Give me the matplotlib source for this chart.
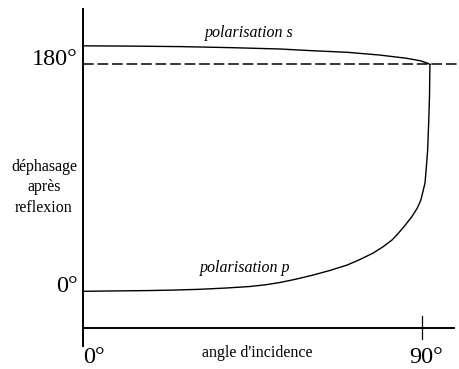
import matplotlib
matplotlib.use("Agg")
import matplotlib.pyplot as plt

# Data (angle of incidence in degrees, phase shift in degrees)
p_angle = [0, 17.8, 24.5, 31.1, 38.0, 44.3, 48.5, 52.3, 56.5, 61.1, 65.5, 70.1, 73.5, 77.0, 79.5,
           82.0, 83.4, 85.2, 87.3, 88.7, 89.7, 90.8, 91.2, 91.5, 91.8, 92.0, 92.1]
p_phase = [0, 0.6, 1.0, 1.6, 2.6, 3.8, 5.2, 7.0, 9.6, 12.9, 16.5, 20.8, 25.2, 30.3, 35.0,
           40.6, 45.0, 51.2, 59.2, 65.8, 72.4, 85.9, 100.2, 112.1, 135.9, 155.7, 180]
s_angle = [0, 12.5, 25.8, 39.0, 52.3, 61.1, 70.1, 78.8, 86.0, 89.5, 91.6, 92.1]
s_phase = [194.8, 194.6, 194.2, 193.4, 192.3, 190.9, 189.7, 187.5, 184.9, 183.0, 180.9, 180]
y_tick_labels = ["0°", "180°"]
y_tick_values = [0, 180]
x_tick_labels = ["0°", "90°"]
x_tick_values = [0, 90]

fig = plt.figure(figsize=(4.6, 3.69), dpi=100)
ax = fig.add_axes([0, 0, 1, 1])
ax.set_xlim(-22.04, 100.09)
ax.set_ylim(-61.67, 231.19)
ax.axis("off")

serif = ["Liberation Serif", "DejaVu Serif"]

# axes drawn by hand (schematic)
ax.plot([0, 0], [224.8, -44.2], color="black", lw=1.4, solid_capstyle="butt")
ax.plot([0, 98.76], [-29.13, -29.13], color="black", lw=1.4, solid_capstyle="butt")
ax.plot([90, 90], [-19.6, -37.9], color="black", lw=0.9)
ax.plot([0, 100.09], [180, 180], color="black", lw=1.1, dashes=(7, 2.5))

ax.plot(s_angle, s_phase, color="black", lw=1.0)
ax.plot(p_angle, p_phase, color="black", lw=1.0)

for v, lab in zip(y_tick_values, y_tick_labels):
    ax.text(-1.4, v - 0.5, lab, ha="right", va="baseline", fontsize=17.5, family=serif)
for v, lab in zip(x_tick_values, x_tick_labels):
    ax.text(v + (2.8 if v == 0 else 1.0), -44, lab, ha="center", va="top", fontsize=17.5, family=serif)

ax.text(46.3, -49, "angle d'incidence", ha="center", va="center", fontsize=11.5, family=serif)
ax.text(-10.35, 82.4, "déphasage\naprès\nreflexion", ha="center", va="center",
        fontsize=11.5, family=serif, linespacing=1.4)
ax.text(44.1, 205, "polarisation s", ha="center", va="center", fontsize=11.5,
        family=serif, style="italic")
ax.text(43.0, 18.5, "polarisation p", ha="center", va="center", fontsize=11.5,
        family=serif, style="italic")

fig.savefig("out.png", dpi=100)
